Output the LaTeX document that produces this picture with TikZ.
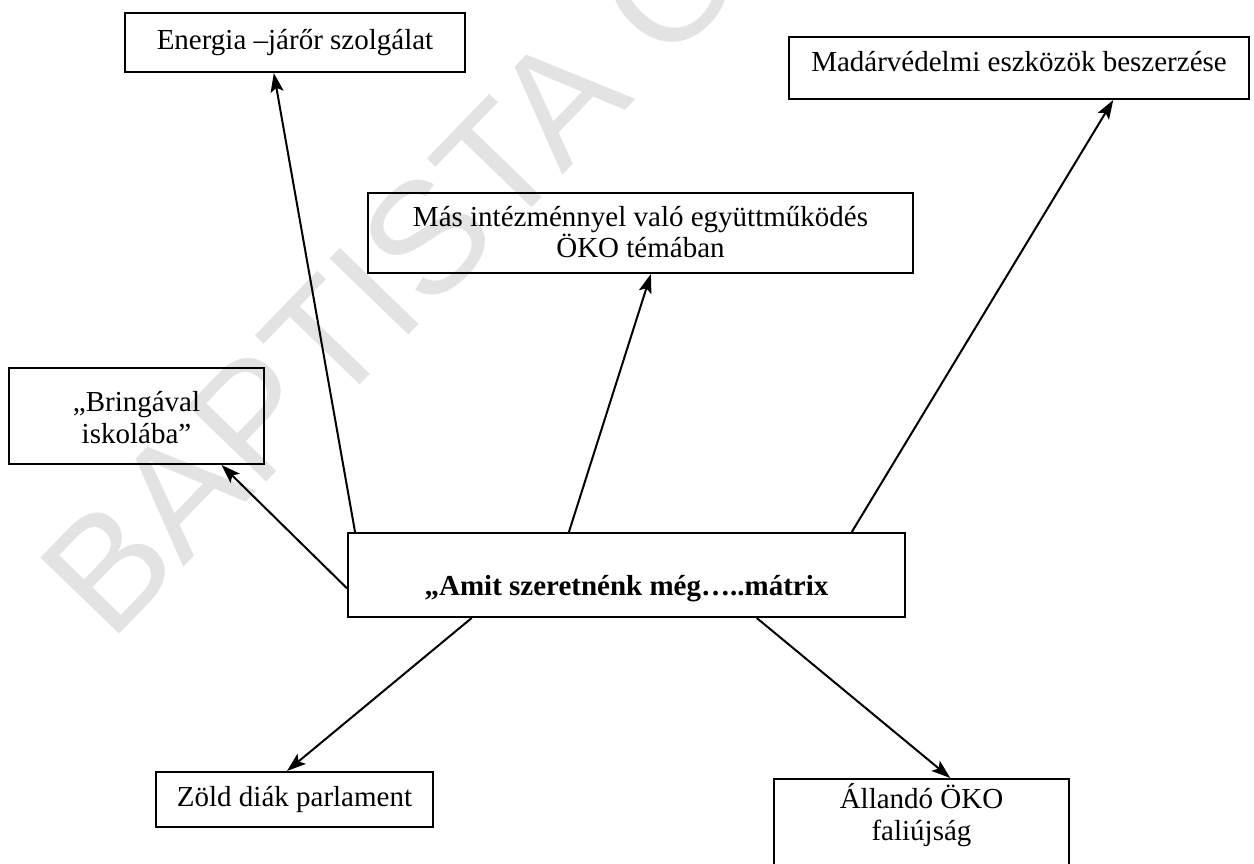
\documentclass[tikz,border=0pt]{standalone}
\usepackage{fontspec}
\setmainfont{Liberation Serif}
\newfontfamily\wmfont{Liberation Sans}
\usetikzlibrary{arrows.meta,calc}
\begin{document}
\begin{tikzpicture}[x=1pt,y=-1pt,
  box/.style={draw=black,line width=2pt,inner sep=0pt,rectangle,anchor=center,
    font=\fontsize{29}{31.5}\selectfont,align=center},
  conn/.style={line width=2pt,-{Stealth[length=19pt,width=13pt,inset=4pt]}},
  wm/.style={text=black!11,font=\wmfont\fontsize{159}{159}\selectfont,inner sep=0pt,anchor=base west,rotate=46}
]
\useasboundingbox (0,0) rectangle (1254,864);
\node[wm] (wmark) at (110,644) {BAPTISTA O};

\node[box,minimum width=340pt,minimum height=59pt,text height=21pt,text depth=6pt] (e) at (295,42.5) {Energia –járőr szolgálat};
\node[box,minimum width=460pt,minimum height=62pt,text height=20pt,text depth=13pt] (m) at (1019,68) {Madárvédelmi eszközök beszerzése};
\node[box,minimum width=545pt,minimum height=80pt,text height=60pt,text depth=10pt] (s) at (640.5,233) {Más intézménnyel való együttműködés\\ÖKO témában};
\node[box,minimum width=255pt,minimum height=96pt,text height=62pt,text depth=8pt] (b) at (136.5,416) {„Bringával\\iskolába”};
\node[box,minimum width=557pt,minimum height=84pt,text height=46pt,text depth=6pt] (c) at (626.5,575) {\bfseries „Amit szeretnénk még…..mátrix};
\node[box,minimum width=277pt,minimum height=55pt,text height=19pt,text depth=6pt] (z) at (294.5,799.5) {Zöld diák parlament};
\node[box,minimum width=295pt,minimum height=110pt,text height=45pt,text depth=33pt] (a) at (921.5,834) {Állandó ÖKO\\faliújság};

\draw[conn] ($(c.north west)!0.0144!(c.north east)$) -- ($(e.south west)!0.438!(e.south east)$);
\draw[conn] ($(c.north west)!0.397!(c.north east)$) -- ($(s.south west)!0.519!(s.south east)$);
\draw[conn] ($(c.north west)!0.903!(c.north east)$) -- ($(m.south west)!0.704!(m.south east)$);
\draw[conn] ($(c.north west)!0.655!(c.south west)$) -- ($(b.south west)!0.831!(b.south east)$);
\draw[conn] ($(c.south west)!0.223!(c.south east)$) -- ($(z.north west)!0.473!(z.north east)$);
\draw[conn] ($(c.south west)!0.733!(c.south east)$) -- ($(a.north west)!0.597!(a.north east)$);
\end{tikzpicture}
\end{document}
